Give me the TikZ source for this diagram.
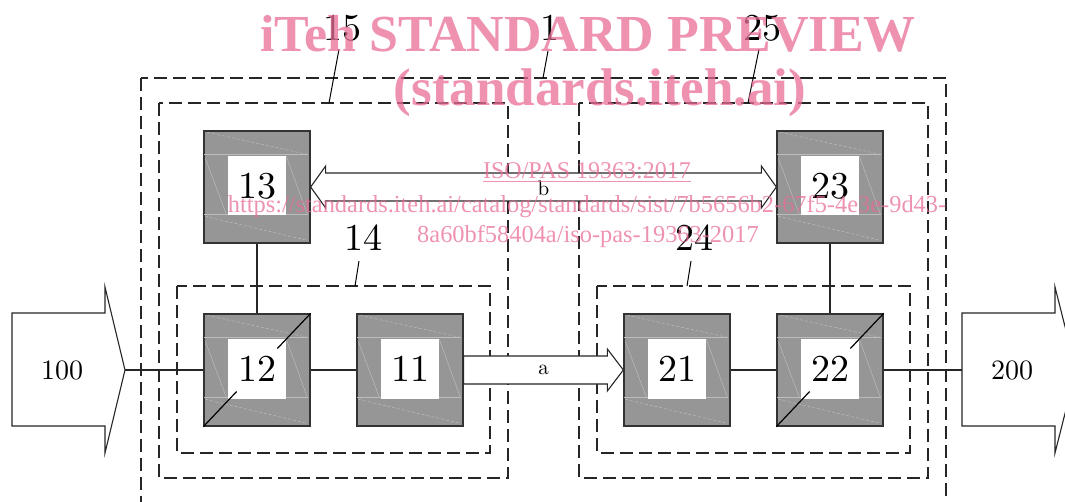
\documentclass[tikz,border=0pt]{standalone}
\usepackage{fontspec}
\newfontfamily\wmfont{Liberation Serif}
\newfontfamily\numfont{lmroman10-regular.otf}
\usetikzlibrary{calc}
\definecolor{boxgray}{RGB}{150,150,150}
\definecolor{texgray}{RGB}{188,188,188}
\definecolor{wmpink}{RGB}{232,110,150}
\newcommand\boxtexture[1]{%
  \begin{scope}[shift={(#1.north west)}]
    \draw[texl, dash pattern=on 3pt off 2pt] (4,2) -- (104,24);
    \draw[texl] (1,24) -- (105,24) (1,84) -- (105,84);
    \draw[texl] (2,28) -- (23,84) (83,26) -- (104,84);
    \draw[texl, dash pattern=on 3pt off 2pt] (2,86) -- (104,110);
  \end{scope}}
\begin{document}
\begin{tikzpicture}[x=1pt,y=-1pt,
  dashbox/.style={draw=black!85, line width=1.1pt, dash pattern=on 13pt off 6pt},
  unitbox/.style={draw=black!80, fill=boxgray, line width=1.3pt, minimum width=106pt, minimum height=112pt, inner sep=0pt},
  numbox/.style={fill=white, minimum width=58pt, minimum height=59pt, inner sep=0pt, font=\numfont\fontsize{38}{40}\selectfont},
  texl/.style={draw=texgray, line width=0.5pt},
  wire/.style={draw=black!85, line width=1.2pt},
  blockarrow/.style={draw=black!85, fill=white, line width=1.1pt, line join=miter},
  lbl/.style={font=\numfont\fontsize{38}{42}\selectfont, inner sep=0pt},
  small/.style={font=\numfont\fontsize{21}{23}\selectfont, inner sep=0pt},
  wm/.style={text=wmpink, text opacity=0.75, inner sep=0pt}]
\useasboundingbox (0,0) rectangle (1065,502);
\begin{scope}
\clip (0,0) rectangle (1065,502);
% dashed containers
\draw[dashbox] (141,78) rectangle (946,540);
\draw[dashbox] (159,103) rectangle (508,478);
\draw[dashbox] (579,103) rectangle (928,478);
\draw[dashbox] (177,286) rectangle (490,453);
\draw[dashbox] (597,286) rectangle (910,453);

% block arrows 100 / 200
\draw[blockarrow] (12,313) -- (105,313) -- (105,287) -- (125,370) -- (105,453) -- (105,426) -- (12,426) -- cycle;
\coordinate (p100) at (125,370);
\node[font=\numfont\fontsize{28}{30}\selectfont, inner sep=0pt] (n100) at (62,370) {100};
\draw[blockarrow] (962,313) -- (1055,313) -- (1055,287) -- (1076,370) -- (1055,453) -- (1055,426) -- (962,426) -- cycle;
\coordinate (p200) at (962,370);
\node[font=\numfont\fontsize{28}{30}\selectfont, inner sep=0pt] (n200) at (1012,370) {200};

% unit boxes
\foreach \n/\x/\y in {13/257/187, 12/257/370, 11/410/370, 21/677/370, 22/830/370, 23/830/187}{
  \node[unitbox] (b\n) at (\x,\y) {};
  \boxtexture{b\n}
  \node[numbox] (t\n) at ($(b\n.center)+(0,-1)$) {\n};
}
% diagonals
\draw[line width=1.2pt] (b12.south west) -- ($(b12.south west)!0.31!(b12.north east)$);
\draw[line width=1.2pt] ($(b12.south west)!0.69!(b12.north east)$) -- (b12.north east);
\draw[line width=1.2pt] (b22.south west) -- ($(b22.south west)!0.31!(b22.north east)$);
\draw[line width=1.2pt] ($(b22.south west)!0.69!(b22.north east)$) -- (b22.north east);

% wires
\draw[wire] (p100) -- (b12.west);
\draw[wire] (b12.east) -- (b11.west);
\draw[wire] (b21.east) -- (b22.west);
\draw[wire] (b22.east) -- (p200);
\draw[wire] (b13.south) -- (b12.north);
\draw[wire] (b23.south) -- (b22.north);

% arrow a
\draw[blockarrow] ($(b11.east)+(0,-14)$) -- ($(b21.west)+(-16,-14)$) -- ($(b21.west)+(-16,-21)$) -- (b21.west)
  -- ($(b21.west)+(-16,21)$) -- ($(b21.west)+(-16,14)$) -- ($(b11.east)+(0,14)$) -- cycle;
\node[small] (la) at ($(b11.east)!0.5!(b21.west)$) {a};
% arrow b
\draw[blockarrow] (b13.east) -- ++(15,-21) -- ++(0,7) -- ($(b23.west)+(-15,-14)$) -- ++(0,-7) -- (b23.west)
  -- ++(-15,21) -- ++(0,-7) -- ($(b13.east)+(15,14)$) -- ++(0,7) -- cycle;
\node[small] (lb) at ($(b13.east)!0.5!(b23.west)+(0,1)$) {b};

% reference labels
\node[lbl] (l15) at (342,28) {15};
\coordinate (c15) at (329,103);
\draw[line width=1pt] ($(l15.south)+(-3,8)$) -- (c15);
\node[lbl] (l1) at (550,28) {1};
\coordinate (c1) at (543,78);
\draw[line width=1pt] ($(l1.south)+(-2,10)$) -- (c1);
\node[lbl] (l25) at (762,28) {25};
\coordinate (c25) at (748,103);
\draw[line width=1pt] ($(l25.south)+(-3,8)$) -- (c25);
\node[lbl] (l14) at (363,238) {14};
\coordinate (c14) at (355,286);
\draw[line width=1pt] ($(l14.south)+(-4,10)$) -- (c14);
\node[lbl] (l24) at (694,238) {24};
\coordinate (c24) at (687,286);
\draw[line width=1pt] ($(l24.south)+(-3,10)$) -- (c24);

% watermark
\node[wm, font=\wmfont\bfseries\fontsize{52}{56}\selectfont, anchor=base] (wm1) at (588,52) {iTeh STANDARD PREVIEW};
\node[wm, font=\wmfont\bfseries\fontsize{53}{56}\selectfont, anchor=base] (wm2) at (600,106) {(standards.iteh.ai)};
\node[wm, font=\wmfont\fontsize{24}{26}\selectfont, anchor=base] (wm3) at (587,179) {\underline{ISO/PAS 19363:2017}};
\node[wm, font=\wmfont\fontsize{24.4}{26}\selectfont, anchor=base] (wm4) at (587,213) {https://standards.iteh.ai/catalog/standards/sist/7b5656b2-67f5-4e3e-9d43-};
\node[wm, font=\wmfont\fontsize{24.4}{26}\selectfont, anchor=base] (wm5) at (588,243) {8a60bf58404a/iso-pas-19363-2017};
\end{scope}
\end{tikzpicture}
\end{document}
